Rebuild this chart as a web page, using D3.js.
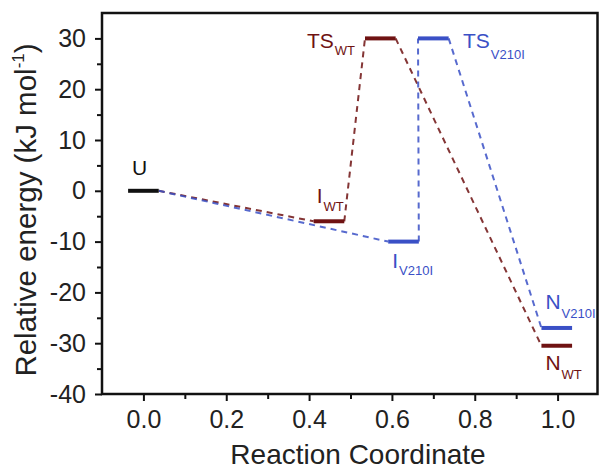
<!DOCTYPE html>
<html>
<head>
<meta charset="utf-8">
<script src="https://cdn.jsdelivr.net/npm/d3@7"></script>
<style>
  body { margin: 0; background: #fff; }
  text { font-family: 'Liberation Sans', Arial, sans-serif; }
</style>
</head>
<body>
<div id="d3"></div>
<script>
const states = ['U', 'I', 'TS', 'N']
const wtX = [0, 0.448, 0.572, 0.998]
const wtE = [0, -6, 30, -30.5]
const mutX = [0, 0.628, 0.700, 0.998]
const mutE = [0, -10, 30, -27]
const xTicks = [0, 0.2, 0.4, 0.6, 0.8, 1.0]
const yTicks = [-40, -30, -20, -10, 0, 10, 20, 30]

const width = 601
const height = 470
const padding = { left: 102, right: 2, top: 13, bottom: 76 }
const halfW = 0.037
const red = '#6f1212'
const blue = '#3a50c6'

const svg = d3.select('#d3')
  .append('svg')
  .attr('width', width)
  .attr('height', height)

const xScale = d3.scaleLinear().domain([-0.1, 1.1]).range([padding.left, width - padding.right])
const yScale = d3.scaleLinear().domain([-40, 35]).range([height - padding.bottom, padding.top])

// minor ticks
svg.append('g')
  .attr('transform', `translate(0, ${yScale(-40)})`)
  .call(d3.axisBottom(xScale).tickValues(d3.range(1, 11, 2).map(d => d / 10)).tickSize(5).tickFormat(''))
svg.append('g')
  .attr('transform', `translate(${xScale(-0.1)}, 0)`)
  .call(d3.axisLeft(yScale).tickValues(d3.range(-35, 35, 10)).tickSize(5).tickFormat(''))

const xAxis = svg.append('g')
  .attr('transform', `translate(0, ${yScale(-40)})`)
  .call(d3.axisBottom(xScale).tickValues(xTicks).tickSize(7).tickPadding(9).tickFormat(d3.format('.1f')))
const yAxis = svg.append('g')
  .attr('transform', `translate(${xScale(-0.1)}, 0)`)
  .call(d3.axisLeft(yScale).tickValues(yTicks).tickSize(7).tickPadding(9).tickFormat(d => d))

svg.selectAll('.domain').remove()
svg.selectAll('.tick line').attr('stroke', '#111').attr('stroke-width', 2)
xAxis.selectAll('text').attr('font-size', 25).attr('fill', '#222')
yAxis.selectAll('text').attr('font-size', 25).attr('fill', '#222')

// frame
svg.append('rect')
  .attr('x', xScale(-0.1))
  .attr('y', yScale(35))
  .attr('width', xScale(1.1) - xScale(-0.1) - 1.5)
  .attr('height', yScale(-40) - yScale(35))
  .attr('fill', 'none')
  .attr('stroke', '#111')
  .attr('stroke-width', 2.5)

// dashed connections
const segs = (xs, es) => d3.range(xs.length - 1).map(i => [
  [xs[i] + halfW, es[i]], [xs[i + 1] - halfW, es[i + 1]]
])
const line = d3.line().x(d => xScale(d[0])).y(d => yScale(d[1]))

const paths = [[segs(wtX, wtE), red], [segs(mutX, mutE), blue]]
paths.forEach(([s, c]) => {
  svg.append('g').selectAll('path')
    .data(s)
    .enter()
    .append('path')
    .attr('d', line)
    .attr('fill', 'none')
    .attr('stroke', c)
    .attr('stroke-width', 2)
    .attr('stroke-dasharray', '6,5')
    .attr('opacity', 0.85)
})

// energy levels
const levels = states.map((s, i) => ({ x: mutX[i], e: mutE[i], c: i === 0 ? '#111' : blue }))
  .concat(states.slice(1).map((s, i) => ({ x: wtX[i + 1], e: wtE[i + 1], c: red })))
svg.append('g').selectAll('line')
  .data(levels)
  .enter()
  .append('line')
  .attr('x1', d => xScale(d.x - halfW))
  .attr('x2', d => xScale(d.x + halfW))
  .attr('y1', d => yScale(d.e))
  .attr('y2', d => yScale(d.e))
  .attr('stroke', d => d.c)
  .attr('stroke-width', 4)

// state labels: [state index, series, dx from level's left end, dy, subscript dy, colour, subscript]
const labelDefs = [
  [0, 'mut', 4, -16, 0, '#111', ''],
  [1, 'wt', 3, -18, 8, red, 'WT'],
  [2, 'wt', -58, 10, 7, red, 'WT'],
  [2, 'mut', 45, 10, 11, blue, 'V210I'],
  [1, 'mut', 4, 26, 7, blue, 'V210I'],
  [3, 'mut', 4, -19, 9, blue, 'V210I'],
  [3, 'wt', 4, 24, 9, red, 'WT']
]
labelDefs.forEach(([i, series, dx, dy, sdy, c, sub]) => {
  const xs = series === 'wt' ? wtX : mutX
  const es = series === 'wt' ? wtE : mutE
  const t = svg.append('text')
    .attr('x', xScale(xs[i] - halfW) + dx)
    .attr('y', yScale(es[i]) + dy)
    .attr('fill', c)
    .attr('font-size', 21)
  t.append('tspan').text(states[i])
  if (sub) {
    t.append('tspan').text(sub).attr('font-size', 13).attr('dy', sdy).attr('dx', 1)
  }
})

// axis titles
svg.append('text')
  .attr('x', 358)
  .attr('y', 464)
  .attr('text-anchor', 'middle')
  .attr('font-size', 28)
  .attr('fill', '#222')
  .text('Reaction Coordinate')

const yt = svg.append('text')
  .attr('transform', `translate(36, 210) rotate(-90)`)
  .attr('text-anchor', 'middle')
  .attr('font-size', 29.5)
  .attr('fill', '#222')
yt.append('tspan').text('Relative energy (kJ mol')
yt.append('tspan').text('-1').attr('font-size', 17).attr('dy', -12)
yt.append('tspan').text(')').attr('dy', 12)
</script>
</body>
</html>
